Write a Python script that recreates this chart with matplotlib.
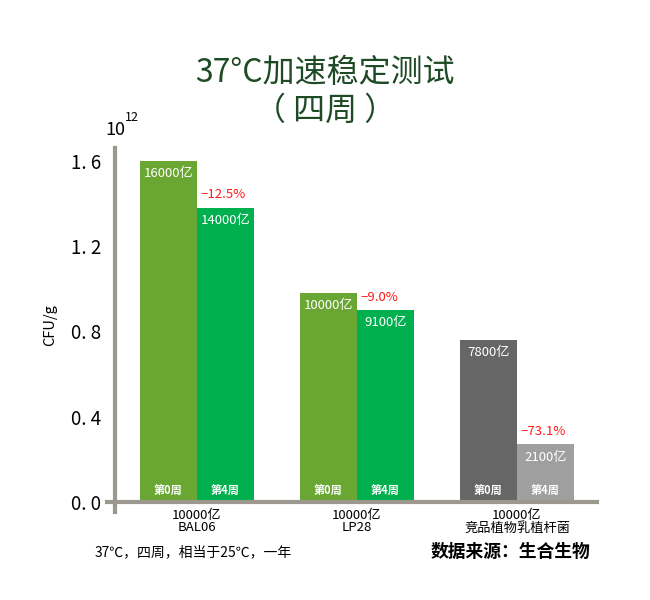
import matplotlib.pyplot as plt
import numpy as np

plt.rcParams['font.family'] = ['Noto Sans CJK SC', 'DejaVu Sans']
plt.rcParams['axes.unicode_minus'] = False

# データ
groups = ['10000亿\nBAL06', '10000亿\nLP28', '10000亿\n竞品植物乳植杆菌']
week0 = [1.60, 0.98, 0.76]          # 10^12 CFU/g（図から読んだ高さ）
week4 = [1.38, 0.90, 0.27]
week0_labels = ['16000亿', '10000亿', '7800亿']
week4_labels = ['14000亿', '9100亿', '2100亿']
change_labels = ['\u221212.5%', '\u22129.0%', '\u221273.1%']
yticks = [0.0, 0.4, 0.8, 1.2, 1.6]
ytick_labels = ['0. 0', '0. 4', '0. 8', '1. 2', '1. 6']

col0 = ['#6aa632', '#6aa632', '#666666']
col4 = ['#00b04f', '#00b04f', '#a09f9f']
axis_gray = '#9c9890'

fig = plt.figure(figsize=(6.5, 6), dpi=100)
ax = fig.add_axes([115 / 650, 1 - 502 / 600, 482 / 650, 354 / 600])

x = np.arange(len(groups))
w = 0.357
ax.bar(x - w / 2, week0, width=w, color=col0, zorder=2)
ax.bar(x + w / 2, week4, width=w, color=col4, zorder=2)

for i in range(len(groups)):
    # 棒の中の値
    ax.text(x[i] - w / 2, week0[i] - 0.03, week0_labels[i], ha='center', va='top',
            color='white', fontsize=9.5)
    ax.text(x[i] + w / 2, week4[i] - 0.03, week4_labels[i], ha='center', va='top',
            color='white', fontsize=9.5)
    ax.text(x[i] - w / 2, 0.055, '第0周', ha='center', va='center',
            color='white', fontsize=8, fontweight='bold')
    ax.text(x[i] + w / 2, 0.055, '第4周', ha='center', va='center',
            color='white', fontsize=8, fontweight='bold')
    # 減少率
    ax.text(x[i] + 0.02, week4[i] + 0.03, change_labels[i], ha='left', va='bottom',
            color='#ff1a1a', fontsize=9.5)
    # カテゴリ名
    ax.text(x[i], -0.035, groups[i], ha='center', va='top', fontsize=9.5,
            linespacing=0.9, clip_on=False)

ax.set_xlim(-0.5125, 2.5)
ax.set_ylim(0, 1.66)
for s in ax.spines.values():
    s.set_visible(False)
ax.set_xticks([])
ax.set_yticks(yticks)
ax.set_yticklabels(ytick_labels, fontsize=13.5)
ax.tick_params(axis='y', length=0, pad=10)

# 軸線
ax.plot([-0.5125, -0.5125], [-0.047, 1.66], color=axis_gray, lw=3, clip_on=False, zorder=3)
ax.plot([-0.565, 2.5], [0, 0], color=axis_gray, lw=3, clip_on=False, zorder=3)

ax.set_ylabel('CFU/g', fontsize=10.5, labelpad=10)

fig.text(115 / 650, 1 - 130 / 600, '10', ha='center', va='center', fontsize=13)
fig.text(125 / 650, 1 - 117 / 600, '12', ha='left', va='center', fontsize=9)

fig.text(0.5, 1 - 73 / 600, '37°C加速稳定测试', ha='center', va='center',
         fontsize=23, color='#1e4a25', fontweight='light')
fig.text(0.5, 1 - 111 / 600, '（ 四周 ）', ha='center', va='center',
         fontsize=23, color='#1e4a25', fontweight='light')

fig.text(95 / 650, 1 - 552 / 600, '37℃，四周，相当于25℃，一年', ha='left', va='center',
         fontsize=10)
fig.text(590 / 650, 1 - 552 / 600, '数据来源：生合生物', ha='right', va='center',
         fontsize=12.8, fontweight='bold')

fig.savefig('out.png', dpi=100, facecolor='white')
